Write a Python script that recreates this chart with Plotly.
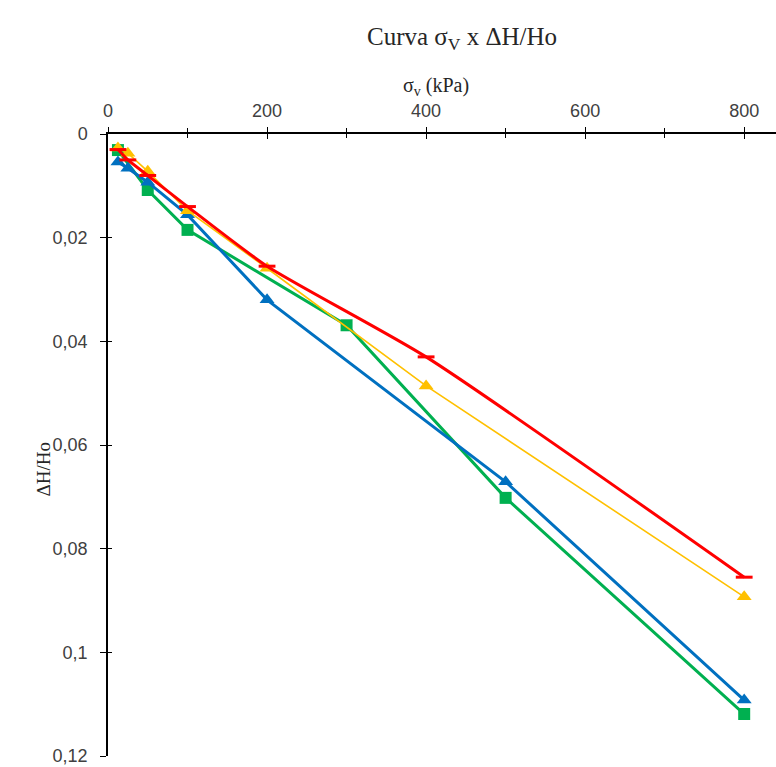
import plotly.graph_objects as go

# Vertical stress steps (kPa) and relative settlement ΔH/Ho per specimen
sigma_red = [12.5, 25, 50, 100, 200, 400, 800]
strain_red = [0.0030, 0.0050, 0.0080, 0.0140, 0.0255, 0.0430, 0.0855]

sigma_yellow = [12.5, 25, 50, 100, 200, 400, 800]
strain_yellow = [0.0027, 0.0037, 0.0072, 0.0148, 0.0259, 0.0486, 0.0893]

sigma_blue = [12.5, 25, 50, 100, 200, 500, 800]
strain_blue = [0.0054, 0.0066, 0.0093, 0.0156, 0.0320, 0.0671, 0.1092]

sigma_green = [12.5, 50, 100, 300, 500, 800]
strain_green = [0.0031, 0.0108, 0.0185, 0.0369, 0.0702, 0.1119]

x_ticks = [0, 200, 400, 600, 800]
y_ticks = [0, 0.02, 0.04, 0.06, 0.08, 0.10, 0.12]

fig = go.Figure()

fig.add_trace(go.Scatter(
    x=sigma_green, y=strain_green, mode="lines+markers",
    line=dict(color="#00B050", width=3),
    marker=dict(symbol="square", size=12, color="#00B050"),
))
fig.add_trace(go.Scatter(
    x=sigma_blue, y=strain_blue, mode="lines+markers",
    line=dict(color="#0070C0", width=3),
    marker=dict(symbol="triangle-up", size=13, color="#0070C0"),
))
fig.add_trace(go.Scatter(
    x=sigma_yellow, y=strain_yellow, mode="lines+markers",
    line=dict(color="#FFC000", width=1.6),
    marker=dict(symbol="triangle-up", size=13, color="#FFC000"),
))
fig.add_trace(go.Scatter(
    x=sigma_red, y=strain_red, mode="lines+markers",
    line=dict(color="#FF0000", width=3, shape="spline", smoothing=0.6),
    marker=dict(symbol="line-ew", size=12, line=dict(color="#FF0000", width=3)),
))
# empty trace carrying the overlay axes that draw the inner half of each tick
fig.add_trace(go.Scatter(x=[], y=[], xaxis="x2", yaxis="y2", showlegend=False))

x_range = [0, 840]
y_range = [0.12, 0]
tick_font = dict(family="Liberation Sans, Arial, sans-serif", size=18, color="#404040")
serif = "Liberation Serif, Times New Roman, serif"

fig.update_layout(
    width=776, height=767,
    margin=dict(l=108, r=0, t=134, b=11),
    paper_bgcolor="white", plot_bgcolor="white",
    showlegend=False,
    separators=", ",
    xaxis=dict(
        range=x_range, side="top", tickvals=x_ticks, ticks="outside", ticklen=5,
        tickcolor="black", tickwidth=1.3, showline=True, linecolor="black", linewidth=1.5,
        showgrid=False, zeroline=False, tickfont=tick_font, ticklabelstandoff=3,
        minor=dict(dtick=100, ticks="outside", ticklen=4, tickcolor="black", tickwidth=1.2),
    ),
    yaxis=dict(
        range=y_range, tickvals=y_ticks, ticks="outside", ticklen=6,
        tickcolor="black", tickwidth=1.3, showline=True, linecolor="black", linewidth=1.5,
        showgrid=False, zeroline=False, tickfont=tick_font, ticklabelstandoff=9,
    ),
    xaxis2=dict(
        range=x_range, overlaying="x", side="top", anchor="y2", tickvals=x_ticks,
        ticks="inside", ticklen=5, tickcolor="black", tickwidth=1.3, showticklabels=False,
        showgrid=False, zeroline=False, showline=False,
        minor=dict(dtick=100, ticks="inside", ticklen=4, tickcolor="black", tickwidth=1.2),
    ),
    yaxis2=dict(
        range=y_range, overlaying="y", side="left", anchor="x2", tickvals=y_ticks,
        ticks="inside", ticklen=4, tickcolor="black", tickwidth=1.3, showticklabels=False,
        showgrid=False, zeroline=False, showline=False,
    ),
    annotations=[
        dict(text="Curva σ<sub>V</sub> x ΔH/Ho", xref="paper", yref="paper",
             x=(462 - 108) / 668, y=1 + (134 - 21) / 622, showarrow=False,
             font=dict(family=serif, size=25, color="#262626")),
        dict(text="σ<sub>v</sub> (kPa)", xref="paper", yref="paper",
             x=(436 - 108) / 668, y=1 + (134 - 72) / 622, showarrow=False,
             font=dict(family=serif, size=20, color="#262626")),
        dict(text="ΔH/Ho", xref="paper", yref="paper", textangle=-90,
             x=(30 - 108) / 668, y=1 - (470 - 134) / 622, showarrow=False,
             font=dict(family=serif, size=19, color="#262626")),
    ],
)

fig.write_html("out.html")
